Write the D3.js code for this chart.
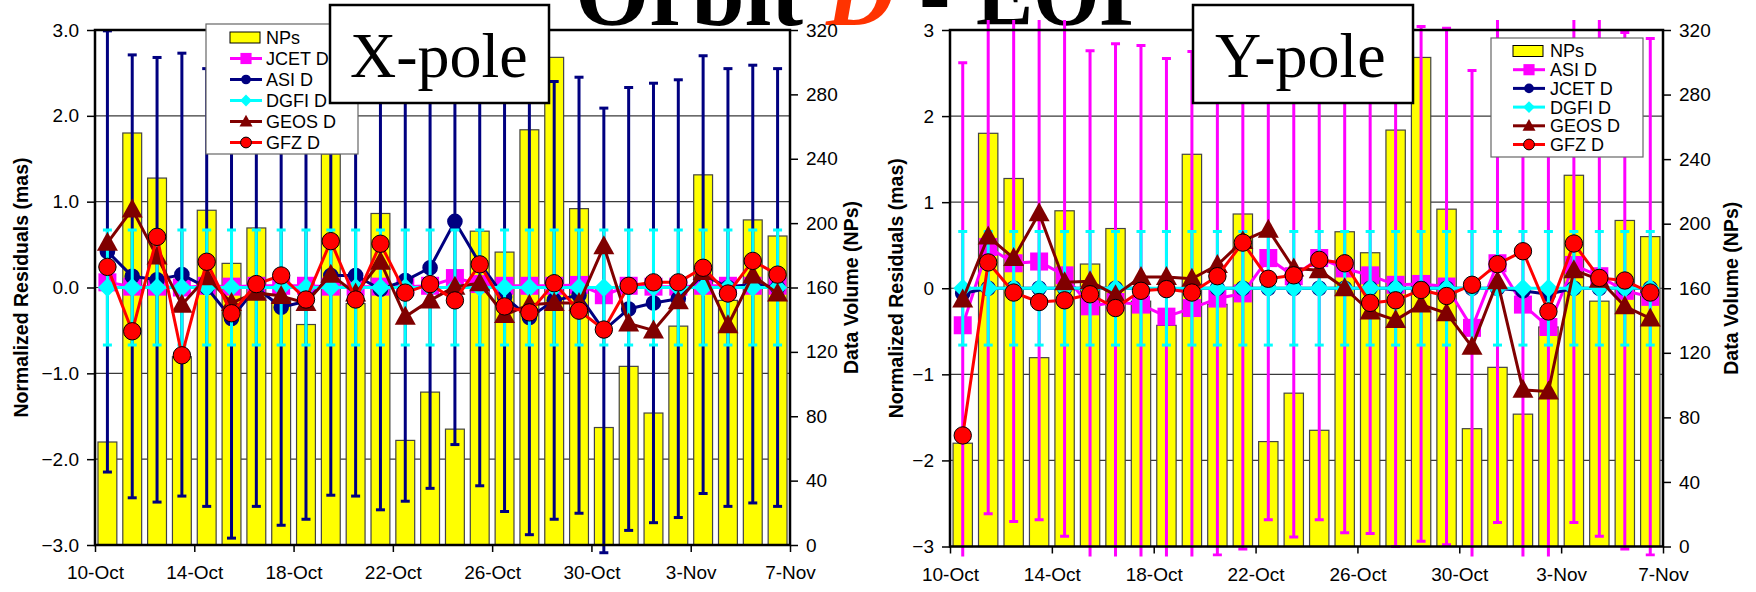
<!DOCTYPE html>
<html><head><meta charset="utf-8">
<script src="https://cdn.jsdelivr.net/npm/d3@7"></script>
<style>
body{margin:0;background:#fff;}
svg{display:block;font-family:Arial,"Liberation Sans",sans-serif;}
</style></head><body>
<svg id="c" width="1756" height="592"></svg>
<script>
// ---------------- DATA ----------------
const dayStart = new Date(2003, 9, 10), dayEnd = new Date(2003, 10, 7);
const days = d3.timeDay.range(dayStart, dayEnd); // 10-Oct .. 6-Nov (28 daily solutions)
const xTickDates = [new Date(2003,9,10), new Date(2003,9,14), new Date(2003,9,18), new Date(2003,9,22),
                    new Date(2003,9,26), new Date(2003,9,30), new Date(2003,10,3), new Date(2003,10,7)];
const xTickLabels = ["10-Oct","14-Oct","18-Oct","22-Oct","26-Oct","30-Oct","3-Nov","7-Nov"];
const residualTicks = [-3,-2,-1,0,1,2,3];
const npTicks = [0,40,80,120,160,200,240,280,320];

// Data volume (normal points), same for both panels
const NPs = [64,256,228,117,208,175,197,152,137,243,150,206,65,95,72,195,182,258,303,209,73,111,82,136,230,152,202,192];

// X-pole residuals (mas)
const xJCET = [0.06,0.01,0.01,0.0,0.02,0.01,0.02,0.02,0.02,0.01,0.01,0.01,0.01,0.02,0.11,0.04,0.02,0.02,0.02,0.03,-0.09,0.02,0.01,0.01,0.02,0.02,0.02,0.02];
const xASI = [0.42,0.13,0.09,0.15,0.0,-0.36,0.0,-0.23,-0.16,0.14,0.14,-0.02,0.08,0.23,0.77,0.28,-0.11,-0.35,-0.15,-0.09,-0.5,-0.25,-0.18,-0.13,0.15,0.0,0.04,0.0];
const xASIerr = [2.57,2.58,2.59,2.58,2.55,2.56,2.55,2.54,2.54,2.56,2.57,2.57,2.57,2.57,2.6,2.59,2.5,2.53,2.55,2.54,2.59,2.58,2.56,2.55,2.55,2.55,2.55,2.55];
const xDGFI = [0,0,0,0,0,0,0,0,0,0,0,0,0,0,0,0,0,0,0,0,0,0,0,0,0,0,0,0];
const xDGFIerr = [0.67,0.67,0.67,0.67,0.67,0.67,0.67,0.67,0.67,0.67,0.67,0.67,0.67,0.67,0.67,0.67,0.67,0.67,0.67,0.67,0.67,0.67,0.67,0.67,0.67,0.67,0.67,0.67];
const xGEOS = [0.52,0.91,0.36,-0.2,0.12,-0.18,-0.06,-0.1,-0.18,0.15,-0.07,0.3,-0.34,-0.15,0.01,0.05,-0.32,-0.2,-0.18,-0.18,0.48,-0.42,-0.5,-0.16,0.18,-0.44,0.14,-0.07];
const xGFZ = [0.24,-0.51,0.59,-0.79,0.3,-0.3,0.04,0.14,-0.14,0.54,-0.14,0.51,-0.06,0.04,-0.15,0.27,-0.22,-0.29,0.05,-0.27,-0.49,0.02,0.06,0.06,0.23,-0.07,0.31,0.15];

// Y-pole residuals (mas)
const yASI = [-0.43,0.48,0.29,0.31,0.15,-0.21,-0.16,-0.19,-0.33,-0.23,-0.12,-0.06,0.35,0.14,0.35,0.23,0.15,0.04,0.05,0.02,-0.46,0.29,-0.19,-0.45,0.27,0.14,-0.03,-0.1];
const yASIerr = [3.05,3.1,3.0,3.0,3.03,2.97,3.0,3.01,3.0,2.98,2.98,2.97,3.04,3.03,3.04,3.07,3.0,3.04,2.99,3.0,2.99,3.01,3.0,3.0,2.99,3.02,3.0,3.0];
const yJCET = [-0.06,0,0,0,0,0,0,0,-0.02,0,0,0,0,0,0,0,0,0,0,0,0,0,-0.03,-0.07,0,0,0,0];
const yDGFI = [0,0,0,0,0,0,0,0,0,0,0,0,0,0,0,0,0,0,0,0,0,0,0,0,0,0,0,0];
const yDGFIerr = [0.66,0.66,0.66,0.66,0.66,0.66,0.66,0.66,0.66,0.66,0.66,0.66,0.66,0.66,0.66,0.66,0.66,0.66,0.66,0.66,0.66,0.66,0.66,0.66,0.66,0.66,0.66,0.66];
const yGEOS = [-0.13,0.6,0.35,0.87,0.07,0.08,-0.08,0.13,0.13,0.11,0.27,0.55,0.68,0.23,0.21,0.0,-0.27,-0.37,-0.19,-0.29,-0.68,0.08,-1.18,-1.2,0.21,0.1,-0.21,-0.35];
const yGFZ = [-1.71,0.3,-0.05,-0.16,-0.14,-0.07,-0.23,-0.03,-0.01,-0.05,0.14,0.53,0.11,0.15,0.33,0.29,-0.17,-0.14,-0.02,-0.09,0.04,0.28,0.43,-0.27,0.52,0.12,0.09,-0.05];

// ---------------- DRAWING ----------------
const svg = d3.select("#c");
const C = {yellow:"#FFFF00", mag:"#FF00FF", navy:"#000080", cyan:"#00FFFF", brown:"#800000", red:"#FF0000"};

function markerPath(type, k) {
  k = k || 1;
  if (type === "square") { const s = 18*k; return `M${-s/2},${-s/2}h${s}v${s}h${-s}Z`; }
  if (type === "diamond") { const s = 9.5*k; return `M0,${-s}L${s},0L0,${s}L${-s},0Z`; }
  if (type === "triangle") { return `M0,${-11*k}L${10.5*k},${8*k}L${-10.5*k},${8*k}Z`; }
  const r = (type === "bigcircle" ? 8.7 : 7.8)*k;
  return d3.arc()({innerRadius:0, outerRadius:r, startAngle:0, endAngle:2*Math.PI});
}

// Title (mostly cut off at top)
const title = svg.append("text").attr("y", 25).attr("font-family", "'Liberation Serif','Times New Roman',serif")
  .attr("font-weight", "bold").attr("font-size", 95);
svg.append("text").attr("x", 575).attr("y", 25).attr("font-family", "'Liberation Serif',serif")
  .attr("font-weight", "bold").attr("font-size", 95).attr("textLength", 228).attr("lengthAdjust","spacingAndGlyphs").text("Orbit");
svg.append("text").attr("x", 826).attr("y", 25).attr("font-family", "'Liberation Serif',serif")
  .attr("font-weight", "bold").attr("font-style","italic").attr("font-size", 95).attr("fill", "#FF3300").text("D");
svg.append("text").attr("x", 919).attr("y", 25).attr("font-family", "'Liberation Serif',serif")
  .attr("font-weight", "bold").attr("font-size", 95).text("-");
svg.append("text").attr("x", 976).attr("y", 25).attr("font-family", "'Liberation Serif',serif")
  .attr("font-weight", "bold").attr("font-size", 95).attr("textLength", 176).attr("lengthAdjust","spacingAndGlyphs").text("EOP");

const panels = [
  { l:95, r:790, t:30, b:545, fmt: d3.format(".1f"), yTitleX:21, npTitleX:851,
    series:[
      {name:"JCET D", v:xJCET, color:C.mag, m:"square"},
      {name:"ASI D", v:xASI, e:xASIerr, color:C.navy, m:"circle"},
      {name:"DGFI D", v:xDGFI, e:xDGFIerr, color:C.cyan, m:"diamond"},
      {name:"GEOS D", v:xGEOS, color:C.brown, m:"triangle"},
      {name:"GFZ D", v:xGFZ, color:C.red, m:"bigcircle", stroke:"#000"}],
    legend:{x:206, y:24, w:152, h:130, row0:37.5, step:21, sw:230, tx:266},
    pole:{x:330, y:5, w:219, h:98, tx:350, text:"X-pole"} },
  { l:950, r:1663, t:30, b:546.5, fmt: d3.format("d"), yTitleX:896, npTitleX:1731,
    series:[
      {name:"ASI D", v:yASI, e:yASIerr, color:C.mag, m:"square"},
      {name:"JCET D", v:yJCET, color:C.navy, m:"circle"},
      {name:"DGFI D", v:yDGFI, e:yDGFIerr, color:C.cyan, m:"diamond"},
      {name:"GEOS D", v:yGEOS, color:C.brown, m:"triangle"},
      {name:"GFZ D", v:yGFZ, color:C.red, m:"bigcircle", stroke:"#000"}],
    legend:{x:1491, y:38, w:152, h:119, row0:51, step:18.7, sw:1513, tx:1550},
    pole:{x:1193, y:5, w:220, h:98, tx:1215, text:"Y-pole"} }
];

panels.forEach((P, pi) => {
  const x = d3.scaleTime().domain([dayStart, dayEnd]).range([P.l, P.r]);
  const y = d3.scaleLinear().domain([-3, 3]).range([P.b, P.t]);
  const yNP = d3.scaleLinear().domain([0, 320]).range([P.b, P.t]);
  const dayW = (P.r - P.l) / days.length;
  const bw = dayW * 0.76;
  const cx = d => x(d3.timeHour.offset(d, 12));
  const g = svg.append("g");

  // gridlines
  g.append("g").selectAll("line").data(residualTicks.filter(t => t > -3 && t < 3)).join("line")
    .attr("x1", P.l).attr("x2", P.r).attr("y1", d => y(d)).attr("y2", d => y(d))
    .attr("stroke", "#3a3a3a").attr("stroke-width", 1.2);

  // bars
  g.append("g").selectAll("rect").data(days).join("rect")
    .attr("x", d => cx(d) - bw/2).attr("width", bw)
    .attr("y", (d, i) => yNP(NPs[i])).attr("height", (d, i) => yNP(0) - yNP(NPs[i]))
    .attr("fill", C.yellow).attr("stroke", "#444").attr("stroke-width", 1.2);

  // clip for error bars / lines
  const clipId = "clip" + pi;
  svg.append("clipPath").attr("id", clipId).append("rect")
    .attr("x", P.l - 5).attr("y", P.t - 10).attr("width", P.r - P.l + 10).attr("height", P.b - P.t + 20);
  const sg = g.append("g").attr("clip-path", `url(#${clipId})`);

  P.series.forEach(s => {
    const ss = sg.append("g");
    if (s.e) {
      const eb = ss.append("g").attr("stroke", s.color).attr("stroke-width", 3);
      eb.selectAll("line.v").data(days).join("line").attr("class", "v")
        .attr("x1", d => cx(d)).attr("x2", d => cx(d))
        .attr("y1", (d, i) => y(s.v[i] - s.e[i])).attr("y2", (d, i) => y(s.v[i] + s.e[i]));
      eb.selectAll("line.t").data(days).join("line").attr("class", "t")
        .attr("x1", d => cx(d) - 4.5).attr("x2", d => cx(d) + 4.5)
        .attr("y1", (d, i) => y(s.v[i] + s.e[i])).attr("y2", (d, i) => y(s.v[i] + s.e[i]));
      eb.selectAll("line.b").data(days).join("line").attr("class", "b")
        .attr("x1", d => cx(d) - 4.5).attr("x2", d => cx(d) + 4.5)
        .attr("y1", (d, i) => y(s.v[i] - s.e[i])).attr("y2", (d, i) => y(s.v[i] - s.e[i]));
    }
    const line = d3.line().x(d => cx(d)).y((d, i) => y(s.v[i]));
    ss.append("path").datum(days).attr("d", line).attr("fill", "none")
      .attr("stroke", s.color).attr("stroke-width", 3).attr("stroke-linejoin", "round");
    ss.selectAll("path.mk").data(days).join("path").attr("class", "mk")
      .attr("transform", (d, i) => `translate(${cx(d)},${y(s.v[i])})`)
      .attr("d", markerPath(s.m)).attr("fill", s.color)
      .attr("stroke", s.stroke || "none").attr("stroke-width", 1);
  });

  // plot border
  g.append("rect").attr("x", P.l).attr("y", P.t).attr("width", P.r - P.l).attr("height", P.b - P.t)
    .attr("fill", "none").attr("stroke", "#000").attr("stroke-width", 2.5);

  // left axis
  const ya = g.append("g").attr("transform", `translate(${P.l},0)`)
    .call(d3.axisLeft(y).tickValues(residualTicks).tickFormat(P.fmt).tickSize(8).tickPadding(8));
  // right axis
  const yr = g.append("g").attr("transform", `translate(${P.r},0)`)
    .call(d3.axisRight(yNP).tickValues(npTicks).tickFormat(d3.format("d")).tickSize(8).tickPadding(8));
  // bottom axis
  const xa = g.append("g").attr("transform", `translate(0,${P.b})`)
    .call(d3.axisBottom(x).tickValues(xTickDates).tickFormat((d, i) => xTickLabels[i]).tickSize(7).tickPadding(14));
  [ya, yr, xa].forEach(a => {
    a.select(".domain").remove();
    a.selectAll(".tick line").attr("stroke", "#000").attr("stroke-width", 1.5);
    a.selectAll(".tick text").attr("font-family", "Arial,'Liberation Sans',sans-serif")
      .attr("font-size", 19).attr("fill", "#000");
  });

  // axis titles
  g.append("text").attr("transform", `translate(${P.yTitleX},${(P.t + P.b)/2}) rotate(-90)`)
    .attr("text-anchor", "middle").attr("dy", "0.36em").attr("font-weight", "bold").attr("font-size", 19.5)
    .text("Normalized Residuals (mas)");
  g.append("text").attr("transform", `translate(${P.npTitleX},${(P.t + P.b)/2}) rotate(-90)`)
    .attr("text-anchor", "middle").attr("dy", "0.36em").attr("font-weight", "bold").attr("font-size", 19.5)
    .text("Data Volume (NPs)");

  // legend
  const L = P.legend;
  const lg = svg.append("g");
  lg.append("rect").attr("x", L.x).attr("y", L.y).attr("width", L.w).attr("height", L.h)
    .attr("fill", "#fff").attr("stroke", "#666").attr("stroke-width", 1.2);
  const items = [{name:"NPs", bar:true}].concat(P.series);
  items.forEach((it, k) => {
    const ry = L.row0 + k * L.step;
    if (it.bar) {
      lg.append("rect").attr("x", L.sw).attr("y", ry - 5.5).attr("width", 30).attr("height", 11)
        .attr("fill", C.yellow).attr("stroke", "#000").attr("stroke-width", 1);
    } else {
      lg.append("line").attr("x1", L.sw).attr("x2", L.sw + 32).attr("y1", ry).attr("y2", ry)
        .attr("stroke", it.color).attr("stroke-width", 3);
      lg.append("path").attr("transform", `translate(${L.sw + 16},${ry})`)
        .attr("d", markerPath(it.m, 0.62)).attr("fill", it.color)
        .attr("stroke", it.stroke || "none").attr("stroke-width", 1);
    }
    lg.append("text").attr("x", L.tx).attr("y", ry).attr("dy", "0.36em").attr("font-size", 18).text(it.name);
  });

  // pole label box
  const Q = P.pole;
  svg.append("rect").attr("x", Q.x).attr("y", Q.y).attr("width", Q.w).attr("height", Q.h)
    .attr("fill", "#fff").attr("stroke", "#000").attr("stroke-width", 2.5);
  svg.append("text").attr("x", Q.tx).attr("y", 77).attr("font-family", "'Liberation Serif','Times New Roman',serif")
    .attr("font-size", 64).text(Q.text);
});
</script>
</body></html>
